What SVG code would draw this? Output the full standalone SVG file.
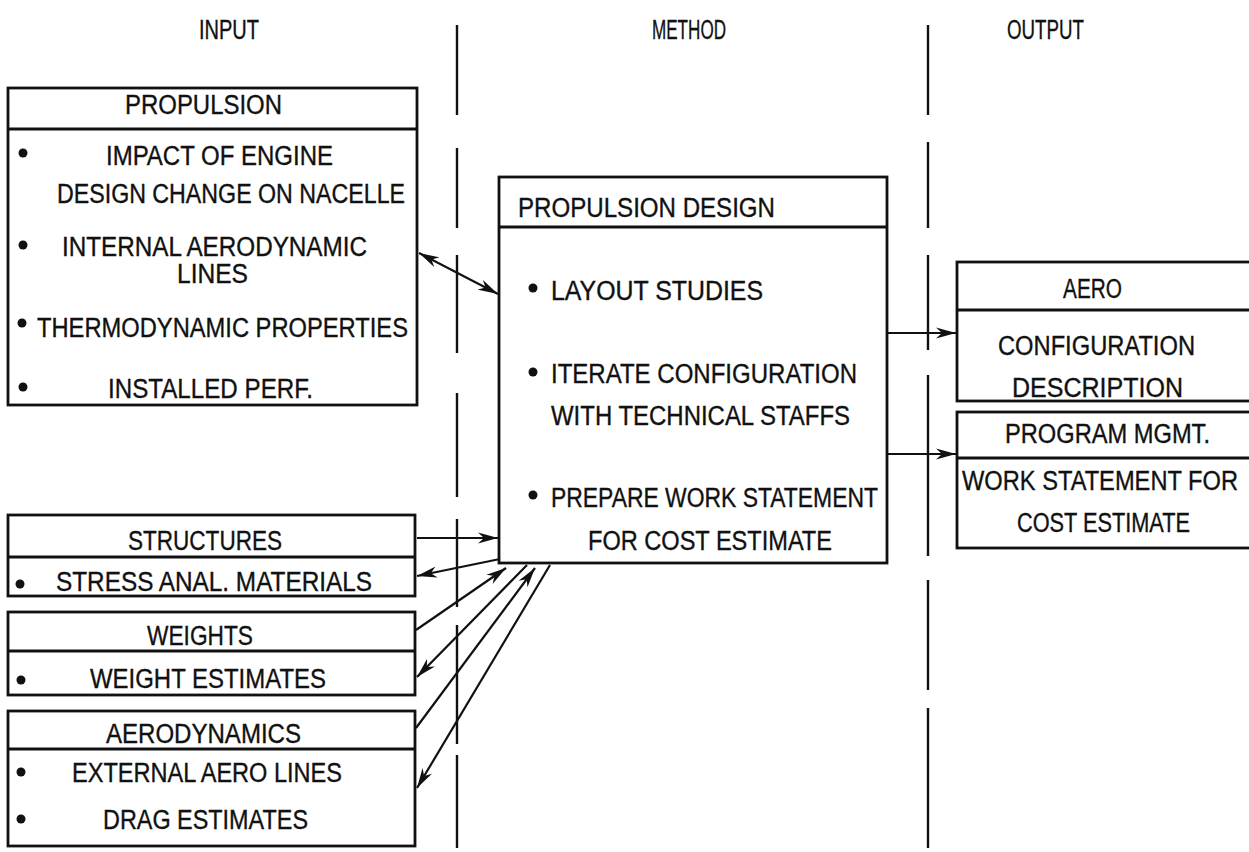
<svg xmlns="http://www.w3.org/2000/svg" width="1249" height="852" viewBox="0 0 1249 852">
<defs>
<marker id="ah" markerUnits="userSpaceOnUse" markerWidth="22" markerHeight="12" refX="20" refY="6" orient="auto-start-reverse"><path d="M0,0.5 L20,6 L0,11.5 L6,6 z" fill="#111"/></marker>
</defs>
<style>
.t{font-family:"Liberation Sans","DejaVu Sans",Arial,sans-serif;font-size:27px;fill:#111;stroke:#111;stroke-width:0.35}
.b{fill:none;stroke:#111;stroke-width:2.8}
.dv{stroke:#111;stroke-width:2.8}
.bl{fill:#111}
.c{stroke:#111;stroke-width:2.2;fill:none;marker-end:url(#ah)}
.cc{stroke:#111;stroke-width:2.2;fill:none;marker-end:url(#ah);marker-start:url(#ah)}
.sep{stroke:#111;stroke-width:2.4;fill:none}
</style>
<rect width="1249" height="852" fill="#fff"/>

<g id="headers">
<text class="t" x="199" y="39" textLength="60" lengthAdjust="spacingAndGlyphs">INPUT</text>
<text class="t" x="652" y="39" textLength="74" lengthAdjust="spacingAndGlyphs">METHOD</text>
<text class="t" x="1007" y="39" textLength="77" lengthAdjust="spacingAndGlyphs">OUTPUT</text>
</g>

<g id="separators">
<path class="sep" d="M457,25V115 M457,148V228 M457,255V353 M457,393V497 M457,519V607 M457,625V744 M457,755V848"/>
<path class="sep" d="M928,25V115 M928,142V228 M928,255V350 M928,375V556 M928,580V690 M928,708V848"/>
</g>

<g id="propulsion">
<rect class="b" x="8" y="88" width="409" height="317"/>
<line class="dv" x1="8" y1="129" x2="417" y2="129"/>
<text class="t" x="125" y="114" textLength="157" lengthAdjust="spacingAndGlyphs">PROPULSION</text>
<circle class="bl" cx="23" cy="153" r="4.5"/>
<text class="t" x="106" y="165" textLength="227" lengthAdjust="spacingAndGlyphs">IMPACT OF ENGINE</text>
<text class="t" x="57" y="203" textLength="348" lengthAdjust="spacingAndGlyphs">DESIGN CHANGE ON NACELLE</text>
<circle class="bl" cx="23" cy="245" r="4.5"/>
<text class="t" x="62" y="256" textLength="305" lengthAdjust="spacingAndGlyphs">INTERNAL AERODYNAMIC</text>
<text class="t" x="177" y="283" textLength="71" lengthAdjust="spacingAndGlyphs">LINES</text>
<circle class="bl" cx="22" cy="323" r="4.5"/>
<text class="t" x="37" y="337" textLength="371" lengthAdjust="spacingAndGlyphs">THERMODYNAMIC PROPERTIES</text>
<circle class="bl" cx="23" cy="387" r="4.5"/>
<text class="t" x="108" y="398" textLength="205" lengthAdjust="spacingAndGlyphs">INSTALLED PERF.</text>
</g>

<g id="propulsion-design">
<rect class="b" x="499" y="177" width="388" height="386"/>
<line class="dv" x1="499" y1="227" x2="887" y2="227"/>
<text class="t" x="518" y="217" textLength="257" lengthAdjust="spacingAndGlyphs">PROPULSION DESIGN</text>
<circle class="bl" cx="533" cy="288" r="4.5"/>
<text class="t" x="551" y="300" textLength="212" lengthAdjust="spacingAndGlyphs">LAYOUT STUDIES</text>
<circle class="bl" cx="533" cy="372" r="4.5"/>
<text class="t" x="551" y="383" textLength="306" lengthAdjust="spacingAndGlyphs">ITERATE CONFIGURATION</text>
<text class="t" x="551" y="425" textLength="299" lengthAdjust="spacingAndGlyphs">WITH TECHNICAL STAFFS</text>
<circle class="bl" cx="533" cy="495" r="4.5"/>
<text class="t" x="551" y="507" textLength="327" lengthAdjust="spacingAndGlyphs">PREPARE WORK STATEMENT</text>
<text class="t" x="588" y="550" textLength="244" lengthAdjust="spacingAndGlyphs">FOR COST ESTIMATE</text>
</g>

<g id="aero">
<rect class="b" x="957" y="262" width="300" height="139"/>
<line class="dv" x1="957" y1="310" x2="1257" y2="310"/>
<text class="t" x="1063" y="298" textLength="59" lengthAdjust="spacingAndGlyphs">AERO</text>
<text class="t" x="998" y="355" textLength="197" lengthAdjust="spacingAndGlyphs">CONFIGURATION</text>
<text class="t" x="1012" y="397" textLength="171" lengthAdjust="spacingAndGlyphs">DESCRIPTION</text>
</g>

<g id="program-mgmt">
<rect class="b" x="957" y="412" width="300" height="136"/>
<line class="dv" x1="957" y1="458" x2="1257" y2="458"/>
<text class="t" x="1005" y="443" textLength="205" lengthAdjust="spacingAndGlyphs">PROGRAM MGMT.</text>
<text class="t" x="962" y="490" textLength="276" lengthAdjust="spacingAndGlyphs">WORK STATEMENT FOR</text>
<text class="t" x="1017" y="532" textLength="173" lengthAdjust="spacingAndGlyphs">COST ESTIMATE</text>
</g>

<g id="structures">
<rect class="b" x="8" y="515" width="407" height="81"/>
<line class="dv" x1="8" y1="557" x2="415" y2="557"/>
<text class="t" x="128" y="550" textLength="154" lengthAdjust="spacingAndGlyphs">STRUCTURES</text>
<circle class="bl" cx="20" cy="584" r="4.5"/>
<text class="t" x="56" y="591" textLength="316" lengthAdjust="spacingAndGlyphs">STRESS ANAL. MATERIALS</text>
</g>

<g id="weights">
<rect class="b" x="8" y="612" width="407" height="83"/>
<line class="dv" x1="8" y1="651" x2="415" y2="651"/>
<text class="t" x="147" y="645" textLength="106" lengthAdjust="spacingAndGlyphs">WEIGHTS</text>
<circle class="bl" cx="21" cy="680" r="4.5"/>
<text class="t" x="90" y="688" textLength="236" lengthAdjust="spacingAndGlyphs">WEIGHT ESTIMATES</text>
</g>

<g id="aerodynamics">
<rect class="b" x="8" y="711" width="407" height="135"/>
<line class="dv" x1="8" y1="749" x2="415" y2="749"/>
<text class="t" x="106" y="743" textLength="195" lengthAdjust="spacingAndGlyphs">AERODYNAMICS</text>
<circle class="bl" cx="21" cy="772" r="4.5"/>
<text class="t" x="72" y="782" textLength="270" lengthAdjust="spacingAndGlyphs">EXTERNAL AERO LINES</text>
<circle class="bl" cx="21" cy="819" r="4.5"/>
<text class="t" x="103" y="829" textLength="205" lengthAdjust="spacingAndGlyphs">DRAG ESTIMATES</text>
</g>

<g id="connectors">
<line class="cc" x1="419" y1="253" x2="498" y2="294"/>
<line class="c" x1="417" y1="538" x2="498" y2="538"/>
<line class="c" x1="500" y1="559" x2="417" y2="576"/>
<line class="c" x1="416" y1="630" x2="506" y2="568"/>
<line class="c" x1="527" y1="565" x2="417" y2="677"/>
<line class="c" x1="416" y1="728" x2="535" y2="568"/>
<line class="c" x1="550" y1="565" x2="417" y2="788"/>
<line class="c" x1="887" y1="333" x2="956" y2="333"/>
<line class="c" x1="887" y1="454" x2="956" y2="454"/>
</g>
</svg>
